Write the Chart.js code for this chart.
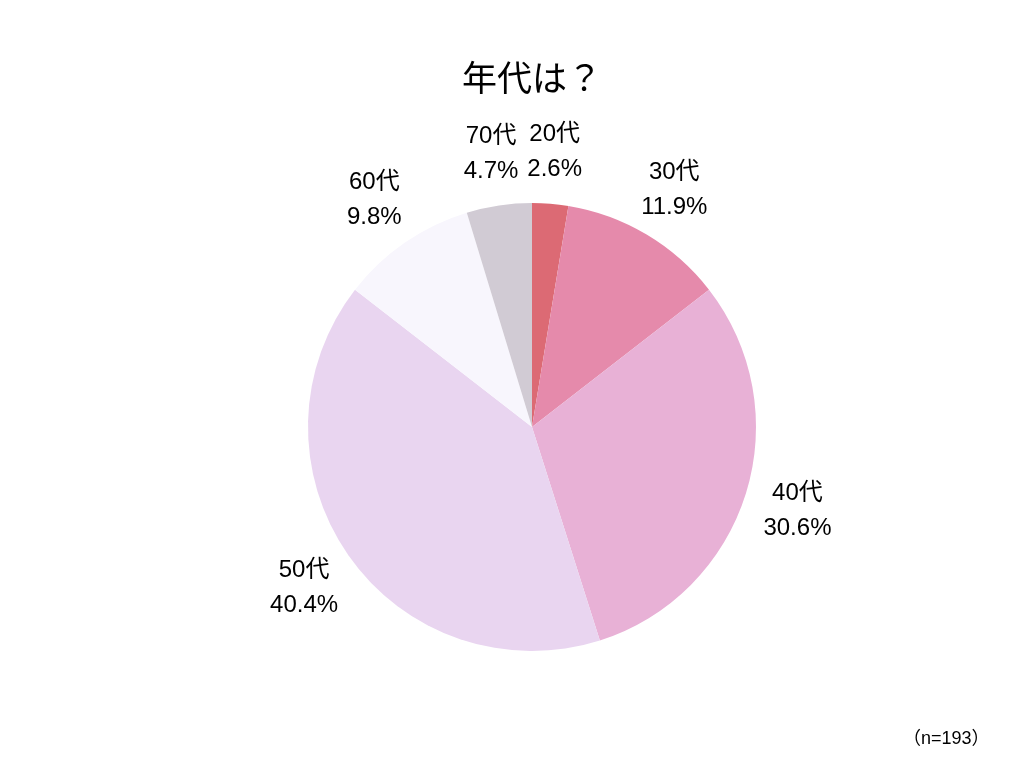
<!DOCTYPE html>
<html>
<head>
<meta charset="utf-8">
<script src="https://cdn.jsdelivr.net/npm/chart.js@4"></script>
<style>
  body { margin: 0; background: #fff; }
  #wrap { position: relative; width: 1024px; height: 768px; }
  #note { position: absolute; left: 903px; top: 723px; font: 18px 'Liberation Sans', 'Noto Sans CJK JP', sans-serif; color: #000; }
</style>
</head>
<body>
<div id="wrap">
  <canvas id="myChart" width="1024" height="768"></canvas>
  <div id="note">（n=193）</div>
</div>
<script>
// データ
let labels = ['20代', '30代', '40代', '50代', '60代', '70代'];
let values = [2.6, 11.9, 30.6, 40.4, 9.8, 4.7];
let colors = ['#dc6a74', '#e58aab', '#e8b1d6', '#e9d5f0', '#f8f6fd', '#d1cbd4'];

let labelFont = "'Liberation Sans', 'Noto Sans CJK JP', sans-serif";

// ラベルを外側に描くプラグイン
const outsideLabels = {
    id: 'outsideLabels',
    afterDatasetsDraw(chart) {
        let ctx = chart.ctx;
        let meta = chart.getDatasetMeta(0);
        ctx.save();
        ctx.fillStyle = '#000';
        ctx.font = '24px ' + labelFont;
        ctx.textAlign = 'center';
        ctx.textBaseline = 'middle';
        meta.data.forEach((arc, i) => {
            let p = arc.getProps(['x', 'y', 'startAngle', 'endAngle', 'outerRadius'], true);
            let mid = (p.startAngle + p.endAngle) / 2;
            let r = p.outerRadius + 54;
            let x = p.x + Math.cos(mid) * r;
            let y = p.y + Math.sin(mid) * r;
            ctx.fillText(labels[i], x, y - 16);
            ctx.fillText(values[i].toFixed(1) + '%', x, y + 19);
        });
        ctx.restore();
    }
};

let ctx = document.getElementById('myChart').getContext('2d');
let myChart = new Chart(ctx, {
    type: 'pie',
    data: {
        labels: labels,
        datasets: [{
            data: values,
            backgroundColor: colors,
            borderWidth: 0
        }]
    },
    options: {
        responsive: false,
        animation: false,
        layout: { padding: { top: 50, bottom: 117, left: 60, right: 20 } },
        plugins: {
            legend: { display: false },
            tooltip: { enabled: false },
            title: {
                display: true,
                text: '年代は？',
                color: '#000',
                font: { size: 35, family: "'Noto Sans CJK JP', sans-serif", weight: 'normal' },
                padding: { top: 7, bottom: 104 }
            }
        }
    },
    plugins: [outsideLabels]
});
</script>
</body>
</html>
